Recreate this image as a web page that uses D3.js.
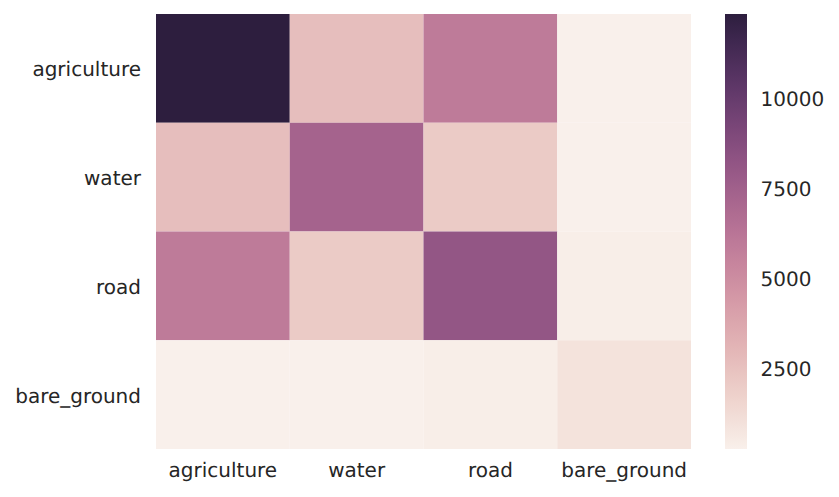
<!DOCTYPE html>
<html>
<head>
<meta charset="utf-8">
<script src="https://cdn.jsdelivr.net/npm/d3@7"></script>
<style>
    html, body { margin: 0; padding: 0; background: #fff; }
    svg { display: block; }
    text { font-family: "DejaVu Sans", sans-serif; fill: #262626; text-rendering: geometricPrecision; }
</style>
</head>
<body>
<svg id="chart" width="839" height="497"></svg>
<script>
// co-occurrence counts
var labels = ["agriculture", "water", "road", "bare_ground"];
var rowAgriculture = [12361, 2650, 5950, 285];
var rowWater = [2650, 7300, 2050, 278];
var rowRoad = [5950, 2050, 8150, 400];
var rowBareGround = [285, 278, 400, 950];
var rows = [rowAgriculture, rowWater, rowRoad, rowBareGround];

var colorTicks = [2500, 5000, 7500, 10000];
var colorMin = 278;
var colorMax = 12361;

var width = 839;
var height = 497;
var plot = { left: 156, right: 691, top: 14, bottom: 449 };
var bar = { left: 725, right: 747 };
var fontSize = 20;

var svg = d3.select("#chart");

// same curve as seaborn's cubehelix palette (light .95, dark .15)
function cubehelix(x) {
    var a = 0.8 * x * (1 - x) / 2;
    var phi = 2 * Math.PI * 0.4 * x;
    var c = Math.cos(phi);
    var s = Math.sin(phi);
    var r = x + a * (-0.14861 * c + 1.78277 * s);
    var g = x + a * (-0.29227 * c - 0.90649 * s);
    var b = x + a * (1.97294 * c);
    return d3.rgb(r * 255, g * 255, b * 255).formatHex();
}

var lightness = d3.scaleLinear().domain([colorMin, colorMax]).range([0.95, 0.15]);
function color(v) {
    return cubehelix(lightness(v));
}

var xScale = d3.scaleBand().domain(labels).range([plot.left, plot.right]);
var yScale = d3.scaleBand().domain(labels).range([plot.top, plot.bottom]);
var barScale = d3.scaleLinear().domain([colorMin, colorMax]).range([plot.bottom, plot.top]);

// heatmap cells
var cells = [];
rows.forEach(function(row, i) {
    row.forEach(function(v, j) {
        cells.push({ row: labels[i], col: labels[j], value: v });
    });
});

svg.append("g")
    .selectAll("rect")
    .data(cells)
    .enter()
    .append("rect")
    .attr("x", function(d) { return xScale(d.col); })
    .attr("y", function(d) { return yScale(d.row); })
    .attr("width", xScale.bandwidth())
    .attr("height", yScale.bandwidth())
    .attr("fill", function(d) { return color(d.value); });

// axes
var xAxis = d3.axisBottom(xScale).tickSize(0).tickPadding(14);
var yAxis = d3.axisLeft(yScale).tickSize(0).tickPadding(15);

svg.append("g")
    .attr("transform", "translate(0," + plot.bottom + ")")
    .call(xAxis)
    .call(function(g) { g.select(".domain").remove(); })
    .selectAll("text")
    .attr("font-size", fontSize)
    .style("font-family", "'DejaVu Sans', sans-serif");

svg.append("g")
    .attr("transform", "translate(" + plot.left + ",0)")
    .call(yAxis)
    .call(function(g) { g.select(".domain").remove(); })
    .selectAll("text")
    .attr("font-size", fontSize)
    .attr("dy", "0.4em")
    .style("font-family", "'DejaVu Sans', sans-serif");

// colorbar
var defs = svg.append("defs");
var gradient = defs.append("linearGradient")
    .attr("id", "barGradient")
    .attr("x1", 0).attr("y1", 1)
    .attr("x2", 0).attr("y2", 0);

gradient.selectAll("stop")
    .data(d3.range(0, 1.0001, 0.02))
    .enter()
    .append("stop")
    .attr("offset", function(d) { return d; })
    .attr("stop-color", function(d) { return cubehelix(0.95 - 0.8 * d); });

svg.append("rect")
    .attr("x", bar.left)
    .attr("y", plot.top)
    .attr("width", bar.right - bar.left)
    .attr("height", plot.bottom - plot.top)
    .attr("fill", "url(#barGradient)");

var barAxis = d3.axisRight(barScale).tickValues(colorTicks).tickFormat(d3.format("d")).tickSize(0).tickPadding(13.5);

svg.append("g")
    .attr("transform", "translate(" + bar.right + ",0)")
    .call(barAxis)
    .call(function(g) { g.select(".domain").remove(); })
    .selectAll("text")
    .attr("font-size", fontSize)
    .style("font-family", "'DejaVu Sans', sans-serif");
</script>
</body>
</html>
